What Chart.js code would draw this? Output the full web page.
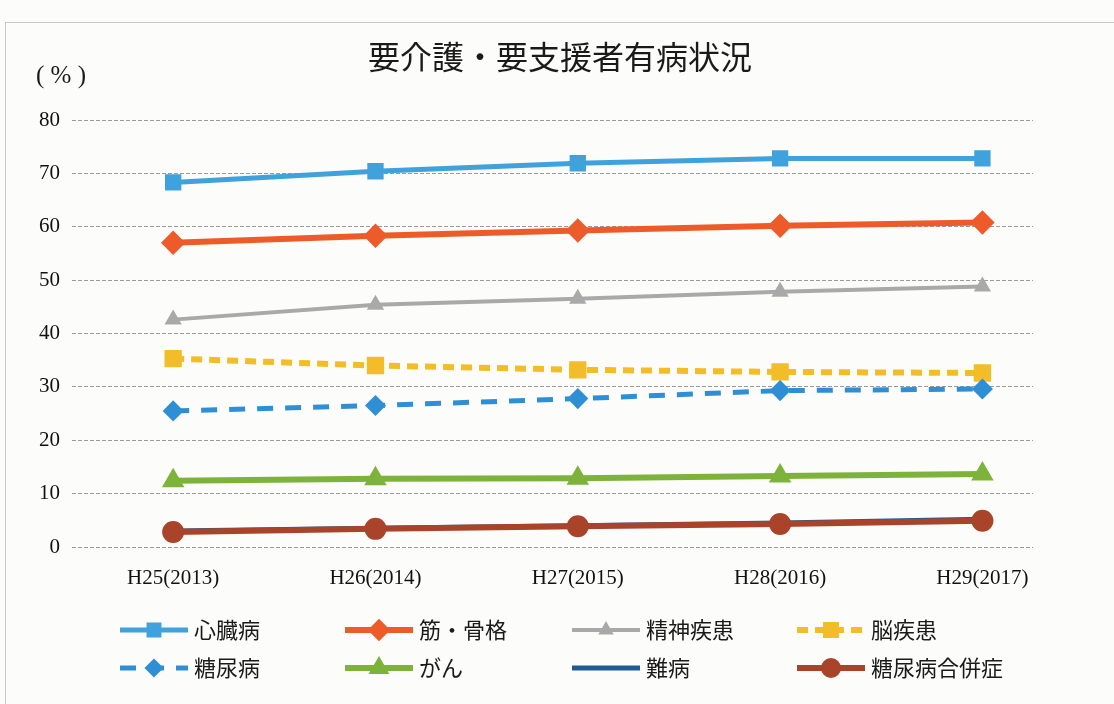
<!DOCTYPE html>
<html lang="ja">
<head>
<meta charset="utf-8">
<title>要介護・要支援者有病状況</title>
<script src="https://cdn.jsdelivr.net/npm/chart.js@4/dist/chart.umd.min.js"></script>
<style>
  html, body { margin: 0; padding: 0; background: #fcfcfa; }
  #wrap { width: 1114px; height: 704px; position: relative; }
</style>
</head>
<body>
<div id="wrap"><canvas id="chart" width="1114" height="704"></canvas></div>
<script>
// 年度
const years = ['H25(2013)', 'H26(2014)', 'H27(2015)', 'H28(2016)', 'H29(2017)'];

// 有病率 (%)
const shinzo = [68.3, 70.4, 71.9, 72.8, 72.8];      // 心臓病
const kinKokkaku = [57.0, 58.3, 59.3, 60.2, 60.8];  // 筋・骨格
const seishin = [42.6, 45.4, 46.5, 47.8, 48.8];     // 精神疾患
const noshikkan = [35.3, 34.0, 33.2, 32.8, 32.6];   // 脳疾患
const tonyo = [25.5, 26.5, 27.8, 29.3, 29.6];       // 糖尿病
const gan = [12.4, 12.8, 12.9, 13.3, 13.7];         // がん
const nanbyo = [3.0, 3.5, 4.0, 4.5, 5.2];           // 難病
const gappei = [2.8, 3.4, 3.9, 4.3, 4.9];           // 糖尿病合併症

const yTicks = [0, 10, 20, 30, 40, 50, 60, 70, 80];

const serif = '"Liberation Serif", "DejaVu Serif", serif';
const jp = '"Noto Sans CJK JP", "Noto Sans", sans-serif';

function pts(arr) {
    return arr.map((v, i) => ({ x: i, y: v }));
}

const datasets = [
    { label: '心臓病', data: pts(shinzo), borderColor: '#3fa2dc', backgroundColor: '#3fa2dc',
      borderWidth: 5, pointStyle: 'rect', pointRadius: 8 },
    { label: '筋・骨格', data: pts(kinKokkaku), borderColor: '#ee5b2a', backgroundColor: '#ee5b2a',
      borderWidth: 6, pointStyle: 'rectRot', pointRadius: 8 },
    { label: '精神疾患', data: pts(seishin), borderColor: '#a9a9a9', backgroundColor: '#a9a9a9',
      borderWidth: 4, pointStyle: 'triangle', pointRadius: 6 },
    { label: '脳疾患', data: pts(noshikkan), borderColor: '#f2bd28', backgroundColor: '#f2bd28',
      borderWidth: 6, borderDash: [11, 7], pointStyle: 'rect', pointRadius: 8 },
    { label: '糖尿病', data: pts(tonyo), borderColor: '#2f8fd5', backgroundColor: '#2f8fd5',
      borderWidth: 5, borderDash: [16, 12], pointStyle: 'rectRot', pointRadius: 7 },
    { label: 'がん', data: pts(gan), borderColor: '#7db33b', backgroundColor: '#7db33b',
      borderWidth: 6, pointStyle: 'triangle', pointRadius: 7 },
    { label: '難病', data: pts(nanbyo), borderColor: '#1f5a96', backgroundColor: '#1f5a96',
      borderWidth: 5, pointRadius: 0 },
    { label: '糖尿病合併症', data: pts(gappei), borderColor: '#a9432a', backgroundColor: '#a9432a',
      borderWidth: 6, pointStyle: 'circle', pointRadius: 8 }
];
// 後の系列ほど手前に描く
datasets.forEach((d, i) => { d.tension = 0; d.pointHoverRadius = d.pointRadius; d.order = -i; });

// 背景・タイトル・凡例を描くプラグイン
const decor = {
    id: 'decor',
    beforeDraw(chart) {
        const ctx = chart.ctx;
        ctx.save();
        ctx.fillStyle = '#fcfcfa';
        ctx.fillRect(0, 0, chart.width, chart.height);
        ctx.strokeStyle = '#c8c8c8';
        ctx.lineWidth = 1;
        ctx.strokeRect(5.5, 22.5, chart.width + 10, chart.height + 10);
        ctx.restore();
    },
    afterDraw(chart) {
        const ctx = chart.ctx;
        ctx.save();
        ctx.fillStyle = '#1a1a1a';
        ctx.textBaseline = 'middle';
        ctx.textAlign = 'center';
        ctx.font = '32px ' + jp;
        ctx.fillText('要介護・要支援者有病状況', 560, 57);
        ctx.textAlign = 'left';
        ctx.font = '25px ' + serif;
        ctx.fillText('( % )', 36, 76);

        // 凡例 2行×4列
        const cols = [120, 345, 572, 797];
        const rows = [630, 668];
        chart.data.datasets.forEach((ds, i) => {
            const x0 = cols[i % 4], y = rows[Math.floor(i / 4)];
            const x1 = x0 + 68;
            ctx.strokeStyle = ds.borderColor;
            ctx.lineWidth = ds.borderWidth;
            ctx.setLineDash(ds.borderDash || []);
            ctx.beginPath();
            ctx.moveTo(x0, y);
            ctx.lineTo(x1, y);
            ctx.stroke();
            ctx.setLineDash([]);
            if (ds.pointRadius > 0 && Chart.helpers && Chart.helpers.drawPoint) {
                ctx.fillStyle = ds.backgroundColor;
                Chart.helpers.drawPoint(ctx, { pointStyle: ds.pointStyle, radius: ds.pointRadius - 1, rotation: 0, borderWidth: 1 }, (x0 + x1) / 2, y);
            }
            ctx.fillStyle = '#1a1a1a';
            ctx.font = '22px ' + jp;
            ctx.textAlign = 'left';
            ctx.fillText(ds.label, x1 + 6, y);
        });
        ctx.restore();
    }
};

new Chart(document.getElementById('chart').getContext('2d'), {
    type: 'line',
    data: { datasets: datasets },
    plugins: [decor],
    options: {
        responsive: false,
        animation: false,
        layout: { padding: { top: 120, right: 81, left: 0, bottom: 0 } },
        plugins: {
            legend: { display: false },
            tooltip: { enabled: false },
            title: { display: false }
        },
        scales: {
            x: {
                type: 'linear',
                min: -0.5,
                max: 4.25,
                afterBuildTicks: scale => { scale.ticks = years.map((_, i) => ({ value: i })); },
                afterFit: scale => { scale.height = 704 - 547; },
                ticks: {
                    callback: v => years[v],
                    color: '#111',
                    font: { family: serif, size: 21 },
                    padding: 19,
                    maxRotation: 0,
                    autoSkip: false
                },
                grid: { display: false, drawTicks: false },
                border: { display: false }
            },
            y: {
                min: 0,
                max: 80,
                afterBuildTicks: scale => { scale.ticks = yTicks.map(v => ({ value: v })); },
                afterFit: scale => { scale.width = 72; },
                ticks: {
                    color: '#111',
                    font: { family: serif, size: 21 },
                    padding: 12
                },
                grid: { color: '#9a9a9a', lineWidth: 1, drawTicks: false },
                border: { display: false, dash: [4, 2] }
            }
        }
    }
});
</script>
</body>
</html>
